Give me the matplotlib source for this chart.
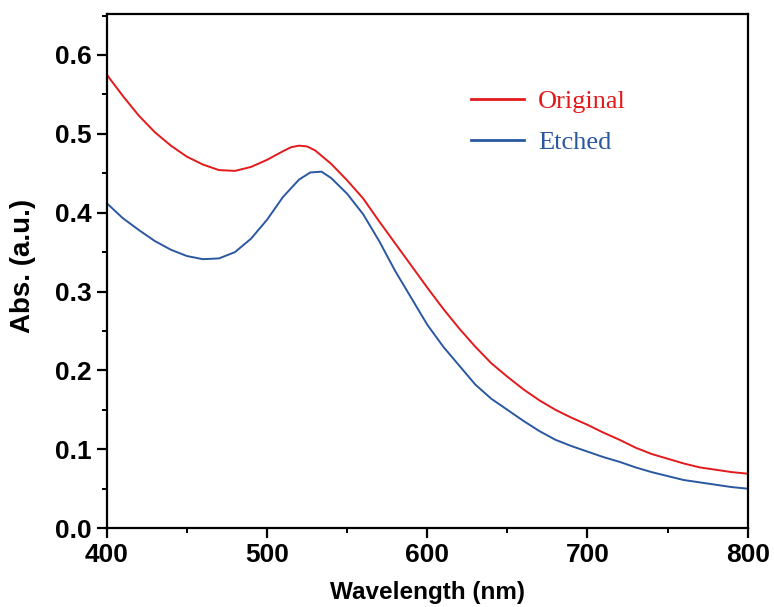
import matplotlib
matplotlib.use("Agg")
import matplotlib.pyplot as plt
from matplotlib.ticker import MultipleLocator

# wavelengths (nm) and absorbance
wl_orig = [400, 410, 420, 430, 440, 450, 460, 470, 480, 490, 500, 510, 515, 520, 525,
           530, 540, 550, 560, 570, 580, 590, 600, 610, 620, 630, 640, 650, 660, 670,
           680, 690, 700, 710, 720, 730, 740, 750, 760, 770, 780, 790, 800]
abs_orig = [0.575, 0.548, 0.523, 0.502, 0.485, 0.471, 0.461, 0.454, 0.453, 0.458, 0.467,
            0.478, 0.483, 0.485, 0.484, 0.479, 0.462, 0.441, 0.418, 0.389, 0.361, 0.333,
            0.305, 0.278, 0.253, 0.230, 0.209, 0.192, 0.176, 0.162, 0.150, 0.140, 0.131,
            0.121, 0.112, 0.102, 0.094, 0.088, 0.082, 0.077, 0.074, 0.071, 0.069]

wl_etch = [400, 410, 420, 430, 440, 450, 460, 470, 480, 490, 500, 510, 520, 527, 534,
           540, 550, 560, 570, 580, 590, 600, 610, 620, 630, 640, 650, 660, 670, 680,
           690, 700, 710, 720, 730, 740, 750, 760, 770, 780, 790, 800]
abs_etch = [0.412, 0.393, 0.378, 0.364, 0.353, 0.345, 0.341, 0.342, 0.350, 0.367, 0.391,
            0.420, 0.442, 0.451, 0.452, 0.444, 0.424, 0.398, 0.364, 0.326, 0.292, 0.258,
            0.230, 0.206, 0.182, 0.164, 0.150, 0.136, 0.123, 0.112, 0.104, 0.097, 0.090,
            0.084, 0.077, 0.071, 0.066, 0.061, 0.058, 0.055, 0.052, 0.050]

red = "#e31a1c"
blue = "#2a58a0"

fig = plt.figure(figsize=(7.74, 6.07), dpi=100)
ax = fig.add_axes([0.138, 0.130, 0.828, 0.847])

ax.plot(wl_orig, abs_orig, color=red, lw=1.4, label="Original")
ax.plot(wl_etch, abs_etch, color=blue, lw=1.4, label="Etched")

ax.set_xlim(400, 800)
ax.set_ylim(0, 0.652)
ax.xaxis.set_major_locator(MultipleLocator(100))
ax.xaxis.set_minor_locator(MultipleLocator(50))
ax.yaxis.set_minor_locator(MultipleLocator(0.05))
ax.set_yticks([0, 0.1, 0.2, 0.3, 0.4, 0.5, 0.6])
ax.set_yticklabels(["0.0", "0.1", "0.2", "0.3", "0.4", "0.5", "0.6"])

for s in ax.spines.values():
    s.set_linewidth(1.6)
ax.tick_params(which="major", direction="out", length=7, width=1.6, pad=4)
ax.tick_params(which="minor", direction="out", length=3.5, width=1.4)
for lab in ax.get_xticklabels() + ax.get_yticklabels():
    lab.set_fontfamily("Liberation Sans")
    lab.set_fontweight("bold")
    lab.set_fontsize(19)

ax.set_xlabel("Wavelength (nm)", fontfamily="Liberation Sans", fontweight="bold",
              fontsize=17.5, va="center")
ax.xaxis.set_label_coords(0.5, -0.126)
ax.set_ylabel("Abs. (a.u.)", fontfamily="Liberation Sans", fontweight="bold",
              fontsize=20, va="center")
ax.yaxis.set_label_coords(-0.13, 0.51)

leg = ax.legend(loc="upper left", bbox_to_anchor=(0.568, 0.853), frameon=False,
                prop={"family": "Liberation Serif", "size": 19},
                borderpad=0, borderaxespad=0,
                handlelength=2.0, handletextpad=0.55, labelspacing=0.68)
for txt, line in zip(leg.get_texts(), leg.get_lines()):
    txt.set_color(line.get_color())
    line.set_linewidth(2)

fig.savefig("out.png", dpi=100)
